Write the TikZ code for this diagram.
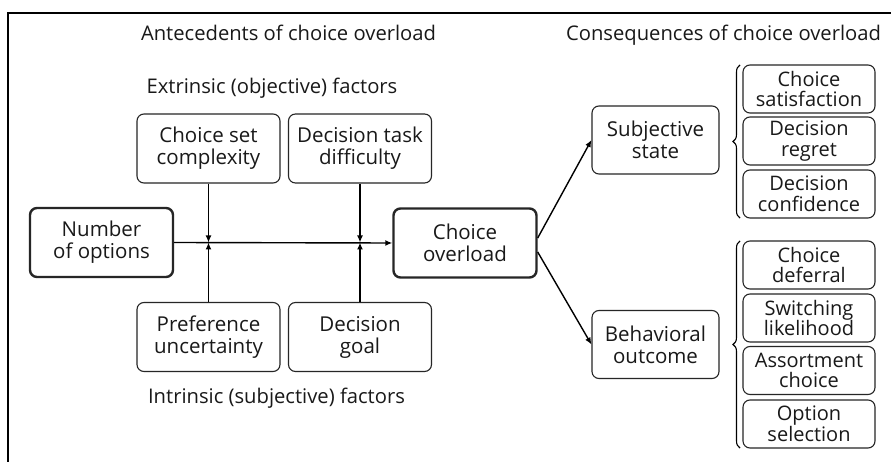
\documentclass[tikz,border=0pt]{standalone}
\usepackage{fontspec}
\setmainfont{Open Sans}
\usetikzlibrary{arrows.meta,decorations.pathreplacing,calc}
\tikzset{
  box/.style={draw=black!85, line width=1.1pt, rounded corners=7pt, align=center, inner sep=0pt,
    font=\fontsize{20.5}{22}\selectfont, text=black!90},
  thickbox/.style={box, line width=2.4pt},
  smallbox/.style={box, minimum width=132pt, minimum height=48pt, font=\fontsize{20}{20.5}\selectfont},
  midbox/.style={box, minimum width=127pt, minimum height=68pt},
  bigbox/.style={box, minimum width=143pt, minimum height=69pt},
  arr/.style={line width=1.4pt, -{Latex[length=7pt,width=6pt]}},
  title/.style={font=\fontsize{20.2}{22}\selectfont, text=black!90, inner sep=0pt},
  brc/.style={decorate, line width=1.1pt, decoration={brace, amplitude=7pt, aspect=0.5}},
}
\begin{document}
\begin{tikzpicture}[x=1pt,y=-1pt]
\useasboundingbox (0,0) rectangle (891,462);
\fill[white] (0,0) rectangle (891,462);
\draw[line width=1.6pt] (8,470) -- (8,13) -- (900,13);

\node[title, anchor=base] (t1) at (288.5,41) {Antecedents of choice overload};
\node[title, anchor=base] (t2) at (723.5,41) {Consequences of choice overload};
\node[title, anchor=base] (t3) at (272,94) {Extrinsic (objective) factors};
\node[title, anchor=base] (t4) at (276.5,403) {Intrinsic (subjective) factors};

\node[bigbox] (cs) at (208.5,148.5) {Choice set\\complexity};
\node[bigbox] (dt) at (360,148.5) {Decision task\\difficulty};
\node[bigbox, thickbox] (no) at (101.5,242.5) {Number\\of options};
\node[bigbox, thickbox] (co) at (465,243) {Choice\\overload};
\node[bigbox] (pu) at (208.5,337) {Preference\\uncertainty};
\node[bigbox] (dg) at (360,337) {Decision\\goal};

\node[midbox] (ss) at (655.5,140) {Subjective\\state};
\node[midbox] (bo) at (655.5,344.5) {Behavioral\\outcome};

\node[smallbox] (r1) at (809,89) {Choice\\satisfaction};
\node[smallbox] (r2) at (809,141) {Decision\\regret};
\node[smallbox] (r3) at (809,194) {Decision\\confidence};
\node[smallbox] (r4) at (809,265) {Choice\\deferral};
\node[smallbox] (r5) at (809,318) {Switching\\likelihood};
\node[smallbox] (r6) at (809,370.5) {Assortment\\choice};
\node[smallbox] (r7) at (809,424) {Option\\selection};

\draw[arr] (no.east) -- (co.west);
\coordinate (j1) at (cs.south |- no.east);
\coordinate (j2) at (dt.south |- no.east);
\draw[arr] (cs.south) -- (j1);
\draw[arr] (dt.south) -- (j2);
\draw[arr] (pu.north) -- (j1);
\draw[arr] (dg.north) -- (j2);

\draw[arr] ([yshift=5pt]co.east) -- (ss.west);
\draw[arr] ([yshift=-9pt]co.east) -- (bo.west);

\coordinate (b1a) at (740,218);
\coordinate (b1b) at (740,65);
\coordinate (b2a) at (740,448);
\coordinate (b2b) at (740,241);
\draw[brc] (b1a) -- (b1b);
\draw[brc] (b2a) -- (b2b);
\end{tikzpicture}
\end{document}
